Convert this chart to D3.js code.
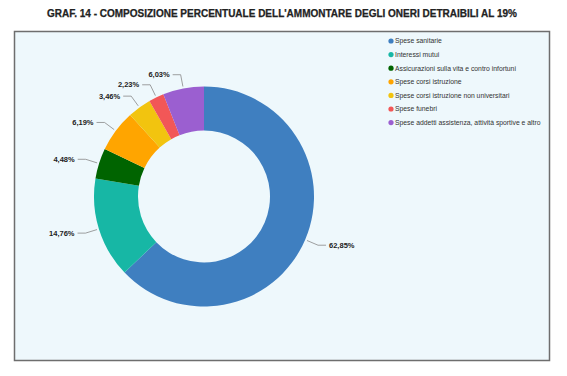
<!DOCTYPE html>
<html>
<head>
<meta charset="utf-8">
<script src="https://cdn.jsdelivr.net/npm/d3@7"></script>
<style>
  body { margin: 0; background: #fff; }
  svg { font-family: "Liberation Sans", Arial, sans-serif; }
</style>
</head>
<body>
<div id="chart"></div>
<script>
// data
var categories = [
  "Spese sanitarie",
  "Interessi mutui",
  "Assicurazioni sulla vita e contro infortuni",
  "Spese corsi istruzione",
  "Spese corsi istruzione non universitari",
  "Spese funebri",
  "Spese addetti assistenza, attività sportive e altro"
];
var values = [62.85, 14.76, 4.48, 6.19, 3.46, 2.23, 6.03];
var labels = ["62,85%", "14,76%", "4,48%", "6,19%", "3,46%", "2,23%", "6,03%"];
var colors = ["#3f7fc0", "#17b7a5", "#006400", "#ffa500", "#f2c40f", "#f25757", "#9b5fd0"];

var svgWidth = 567;
var svgHeight = 376;

var svg = d3.select("#chart")
  .append("svg")
  .attr("width", svgWidth)
  .attr("height", svgHeight);

// title
svg.append("text")
  .attr("x", 282)
  .attr("y", 17)
  .attr("text-anchor", "middle")
  .attr("font-size", 10)
  .attr("font-weight", "bold")
  .attr("fill", "#222")
  .attr("stroke", "#222")
  .attr("stroke-width", 0.25)
  .text("GRAF. 14 - COMPOSIZIONE PERCENTUALE DELL'AMMONTARE DEGLI ONERI DETRAIBILI AL 19%");

// frame
svg.append("rect")
  .attr("x", 14.5)
  .attr("y", 31.5)
  .attr("width", 535)
  .attr("height", 329)
  .attr("fill", "#eef8fc")
  .attr("stroke", "#6e6e6e")
  .attr("stroke-width", 1.5);

var cx = 204, cy = 196.5;
var outerR = 110, innerR = 66;

var pie = d3.pie().sort(null).value(d => d);
var arc = d3.arc().innerRadius(innerR).outerRadius(outerR);

var chartGroup = svg.append("g")
  .attr("transform", `translate(${cx}, ${cy})`);

var arcs = pie(values);

chartGroup.selectAll("path.slice")
  .data(arcs)
  .enter()
  .append("path")
  .attr("class", "slice")
  .attr("d", arc)
  .attr("fill", (d, i) => colors[i]);

// leader lines + labels
function polar(a, r) {
  return [Math.sin(a) * r, -Math.cos(a) * r];
}

arcs.forEach(function (d, i) {
  var mid = (d.startAngle + d.endAngle) / 2;
  var p1 = polar(mid, outerR + 2);
  var p2 = polar(mid, outerR + 14);
  var side = Math.sin(mid) >= 0 ? 1 : -1;
  var p3 = [p2[0] + side * 8, p2[1]];

  chartGroup.append("polyline")
    .attr("points", [p1, p2, p3].map(p => p.join(",")).join(" "))
    .attr("fill", "none")
    .attr("stroke", "#888")
    .attr("stroke-width", 0.8);

  chartGroup.append("text")
    .attr("x", p3[0] + side * 3)
    .attr("y", p3[1])
    .attr("dy", "0.35em")
    .attr("text-anchor", side > 0 ? "start" : "end")
    .attr("font-size", 7.5)
    .attr("font-weight", "bold")
    .attr("fill", "#222")
    .text(labels[i]);
});

// legend
var legend = svg.append("g")
  .attr("transform", "translate(391, 41)");

var items = legend.selectAll("g")
  .data(categories)
  .enter()
  .append("g")
  .attr("transform", (d, i) => `translate(0, ${i * 13.6})`);

items.append("circle")
  .attr("r", 2.6)
  .attr("fill", (d, i) => colors[i]);

items.append("text")
  .attr("x", 4)
  .attr("dy", "0.35em")
  .attr("font-size", 6.8)
  .attr("fill", "#333")
  .text(d => d);
</script>
</body>
</html>
